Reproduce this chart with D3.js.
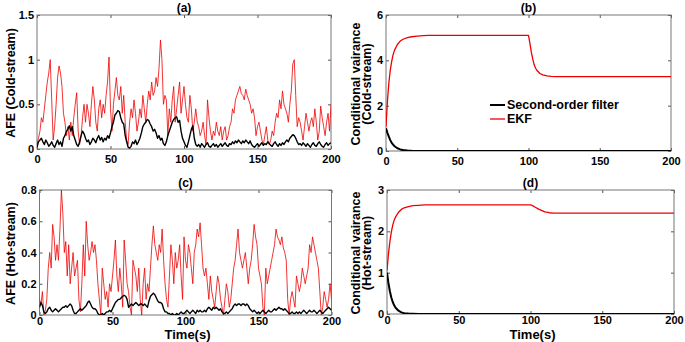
<!DOCTYPE html>
<html>
<head>
<meta charset="utf-8">
<script src="https://cdn.jsdelivr.net/npm/d3@7"></script>
<style>
  body { margin: 0; background: #fff; }
  svg { font-family: "Liberation Sans", Arial, sans-serif; font-weight: bold; }
  .tick text { font-size: 11px; fill: #000; font-weight: bold; }
  .tick line { stroke: #555; }
  .domain { display: none; }
</style>
</head>
<body>
<svg id="chart" width="685" height="342"></svg>
<script>
// time axis of the AFE plots, one sample per second
const timeAfe = d3.range(0, 201);

// (a) AFE cold-stream
const afeColdEkf = [
  0.05, 0.12, 0.2, 0.35, 0.3, 0.45, 0.6, 0.75, 0.85, 1.0,
  0.55, 0.1, 0.25, 0.5, 0.8, 0.93, 0.85, 0.7, 0.4, 0.3,
  0.15, 0.25, 0.1, 0.3, 0.15, 0.35, 0.5, 0.63, 0.2, 0.05,
  0.15, 0.35, 0.5, 0.3, 0.5, 0.4, 0.25, 0.5, 0.7, 0.55,
  0.3, 0.2, 0.45, 0.55, 0.35, 0.5, 0.4, 0.6, 0.75, 1.03,
  0.45, 0.2, 0.5, 0.65, 0.8, 0.6, 0.55, 0.7, 0.4, 0.6,
  0.3, 0.1, 0.05, 0.3, 0.45, 0.35, 0.55, 0.4, 0.2, 0.3,
  0.45, 0.35, 0.6, 0.45, 0.3, 0.5, 0.65, 0.55, 0.75, 0.6,
  0.65, 0.8, 0.7, 0.9, 1.22, 1.0, 0.5, 0.6, 0.55, 0.15,
  0.45, 0.3, 0.55, 0.7, 0.3, 0.45, 0.6, 0.75, 0.4, 0.55,
  0.7, 0.5, 0.35, 0.3, 0.6, 0.45, 0.2, 0.3, 0.45, 0.3,
  0.25, 0.15, 0.2, 0.3, 0.15, 0.05, 0.55, 0.35, 0.2, 0.1,
  0.2, 0.15, 0.3, 0.2, 0.15, 0.25, 0.1, 0.2, 0.25, 0.1,
  0.15, 0.25, 0.3, 0.45, 0.4, 0.55, 0.6, 0.65, 0.7, 0.62,
  0.6, 0.55, 0.67, 0.6, 0.55, 0.5, 0.4, 0.45, 0.35, 0.15,
  0.25, 0.3, 0.2, 0.1, 0.05, 0.15, 0.25, 0.1, 0.05, 0.1,
  0.2, 0.15, 0.3, 0.4, 0.35, 0.55, 0.45, 0.65, 0.5, 0.45,
  0.4, 0.3, 0.5, 0.65, 0.95, 1.0, 0.6, 0.25, 0.35, 0.3,
  0.2, 0.1, 0.25, 0.4, 0.3, 0.2, 0.3, 0.35, 0.25, 0.45,
  0.3, 0.1, 0.2, 0.48, 0.35, 0.25, 0.15, 0.3, 0.4, 0.2,
  0.5,
];
const afeColdSecond = [
  0.02, 0.08, 0.1, 0.12, 0.08, 0.05, 0.1, 0.07, 0.03, 0.05,
  0.08, 0.04, 0.02, 0.06, 0.1, 0.05, 0.08, 0.03, 0.12, 0.15,
  0.2, 0.22, 0.26, 0.2, 0.25, 0.15, 0.1, 0.05, 0.03, 0.08,
  0.15, 0.2, 0.17, 0.12, 0.08, 0.1, 0.05, 0.08, 0.12, 0.1,
  0.07, 0.12, 0.15, 0.1, 0.13, 0.08, 0.12, 0.1, 0.15, 0.12,
  0.18, 0.25, 0.3, 0.38, 0.4, 0.43, 0.42, 0.35, 0.3, 0.28,
  0.15, 0.08, 0.02, 0.01, 0.03, 0.08, 0.06, 0.1, 0.05, 0.08,
  0.12, 0.18, 0.25, 0.28, 0.3, 0.33, 0.32, 0.28, 0.25, 0.2,
  0.22, 0.18, 0.12, 0.15, 0.1, 0.12, 0.06, 0.04, 0.08, 0.15,
  0.2, 0.25, 0.3, 0.33, 0.35, 0.36, 0.3, 0.32, 0.2, 0.12,
  0.08, 0.04, 0.02, 0.08, 0.15, 0.22, 0.26, 0.12, 0.05, 0.03,
  0.05, 0.02, 0.06, 0.04, 0.02, 0.05, 0.07, 0.03, 0.02, 0.04,
  0.06, 0.03, 0.05, 0.02, 0.04, 0.06, 0.03, 0.05, 0.07, 0.04,
  0.03, 0.06, 0.05, 0.08, 0.06, 0.09, 0.07, 0.1, 0.08, 0.06,
  0.09, 0.07, 0.1, 0.08, 0.06, 0.09, 0.05, 0.03, 0.02, 0.04,
  0.06, 0.03, 0.05, 0.07, 0.04, 0.06, 0.05, 0.08, 0.06, 0.04,
  0.03, 0.06, 0.08, 0.05, 0.03, 0.06, 0.04, 0.07, 0.05, 0.08,
  0.1, 0.08, 0.12, 0.14, 0.16, 0.15, 0.12, 0.08, 0.05, 0.06,
  0.04, 0.07, 0.05, 0.03, 0.06, 0.04, 0.02, 0.05, 0.07, 0.04,
  0.03, 0.06, 0.08, 0.05, 0.03, 0.02, 0.05, 0.07, 0.04, 0.06,
  0.07,
];

// (c) AFE hot-stream
const afeHotEkf = [
  0.1, 0.07, 0.15, 0.0, 0.03, 0.1, 0.3, 0.4, 0.3, 0.58,
  0.5, 0.35, 0.45, 0.35, 0.55, 0.8, 0.65, 0.4, 0.47, 0.25,
  0.45, 0.2, 0.3, 0.4, 0.25, 0.3, 0.35, 0.1, 0.02, 0.2,
  0.45, 0.25, 0.6, 0.45, 0.35, 0.4, 0.47, 0.4, 0.45, 0.35,
  0.2, 0.1, 0.0, 0.3, 0.2, 0.1, 0.15, 0.05, 0.2, 0.15,
  0.25, 0.35, 0.48, 0.25, 0.15, 0.3, 0.2, 0.05, 0.48, 0.35,
  0.2, 0.15, 0.05, 0.0, 0.35, 0.3, 0.25, 0.15, 0.3, 0.1,
  0.0, 0.2, 0.3, 0.1, 0.2, 0.15, 0.3, 0.45, 0.57, 0.45,
  0.4, 0.35, 0.45, 0.4, 0.55, 0.35, 0.2, 0.1, 0.05, 0.25,
  0.45, 0.35, 0.2, 0.4, 0.3, 0.35, 0.45, 0.25, 0.1, 0.5,
  0.35, 0.3, 0.45, 0.4, 0.3, 0.2, 0.4, 0.45, 0.55, 0.5,
  0.59, 0.45, 0.3, 0.25, 0.3, 0.2, 0.1, 0.25, 0.15, 0.1,
  0.05, 0.15, 0.25, 0.2, 0.1, 0.05, 0.0, 0.1, 0.2, 0.15,
  0.05, 0.1, 0.2, 0.3, 0.35, 0.45, 0.55, 0.4, 0.35, 0.3,
  0.35, 0.4, 0.3, 0.2, 0.3, 0.35, 0.45, 0.58, 0.5, 0.45,
  0.3, 0.25, 0.2, 0.05, 0.0, 0.3, 0.2, 0.25, 0.3, 0.35,
  0.4, 0.45, 0.55, 0.5, 0.48, 0.45, 0.5, 0.43, 0.4, 0.35,
  0.1, 0.0, 0.1, 0.15, 0.1, 0.05, 0.25, 0.2, 0.15, 0.2,
  0.3, 0.25, 0.2, 0.25, 0.3, 0.45, 0.4, 0.5, 0.45, 0.4,
  0.35, 0.3, 0.15, 0.0, 0.05, 0.15, 0.1, 0.05, 0.1, 0.2,
  0.1,
];
const afeHotSecond = [
  0.05, 0.08, 0.06, 0.02, 0.01, 0.02, 0.04, 0.05, 0.03, 0.02,
  0.03, 0.04, 0.03, 0.02, 0.03, 0.04, 0.05, 0.05, 0.06, 0.05,
  0.06, 0.07, 0.06, 0.03, 0.01, 0.01, 0.02, 0.03, 0.04, 0.03,
  0.04, 0.05, 0.06, 0.08, 0.09, 0.07, 0.05, 0.04, 0.04, 0.03,
  0.01, 0.0, 0.0, 0.01, 0.0, 0.01, 0.02, 0.02, 0.03, 0.02,
  0.04, 0.06, 0.08, 0.09, 0.1, 0.1, 0.11, 0.12, 0.125, 0.12,
  0.1, 0.05, 0.06, 0.07, 0.06, 0.07, 0.08, 0.07, 0.06, 0.07,
  0.07, 0.06, 0.07, 0.06, 0.05, 0.09, 0.12, 0.13, 0.14, 0.13,
  0.11, 0.09, 0.08, 0.08, 0.07, 0.04, 0.02, 0.02, 0.01, 0.01,
  0.0, 0.01, 0.0, 0.0, 0.01, 0.0, 0.01, 0.02, 0.01, 0.01,
  0.02, 0.03, 0.02, 0.01, 0.02, 0.03, 0.02, 0.01, 0.03, 0.02,
  0.03, 0.02, 0.02, 0.03, 0.02, 0.04, 0.05, 0.04, 0.03, 0.05,
  0.04, 0.05, 0.04, 0.03, 0.04, 0.02, 0.01, 0.01, 0.02, 0.01,
  0.02, 0.03, 0.04, 0.06, 0.07, 0.06, 0.07, 0.07, 0.06, 0.07,
  0.07, 0.06, 0.07, 0.06, 0.04, 0.03, 0.02, 0.03, 0.02, 0.01,
  0.02, 0.01, 0.02, 0.03, 0.02, 0.01, 0.02, 0.03, 0.02, 0.02,
  0.03, 0.04, 0.03, 0.04, 0.05, 0.04, 0.04, 0.03, 0.04, 0.03,
  0.02, 0.01, 0.01, 0.02, 0.01, 0.01, 0.02, 0.01, 0.02, 0.01,
  0.02, 0.03, 0.02, 0.01, 0.02, 0.03, 0.02, 0.02, 0.03, 0.02,
  0.01, 0.02, 0.03, 0.02, 0.01, 0.02, 0.03, 0.04, 0.05, 0.04,
  0.03,
];

// conditional variance plots, sampled more densely where the curves bend
const timeVar = [0, 1, 2, 3, 4, 5, 6, 8, 10, 12, 15, 18, 22, 26, 30, 40, 60, 80, 100,
  101, 102, 103, 104, 105, 106, 108, 110, 113, 116, 120, 140, 170, 200];

// (b) cold-stream
const varColdEkf = [1.07, 2.2, 3.0, 3.57, 3.95, 4.25, 4.45, 4.7, 4.85, 4.93, 5.0, 5.04, 5.07, 5.09, 5.1, 5.1, 5.1, 5.1, 5.1,
  4.75, 4.35, 4.05, 3.8, 3.65, 3.55, 3.42, 3.36, 3.31, 3.29, 3.28, 3.28, 3.28, 3.28];
const varColdSecond = [1.0, 0.8, 0.63, 0.48, 0.36, 0.28, 0.21, 0.12, 0.07, 0.04, 0.02, 0.01, 0.005, 0, 0, 0, 0, 0, 0,
  0, 0, 0, 0, 0, 0, 0, 0, 0, 0, 0, 0, 0, 0];

// (d) hot-stream
const varHotEkf = [1.05, 1.45, 1.75, 1.98, 2.15, 2.27, 2.35, 2.46, 2.53, 2.57, 2.6, 2.62, 2.63, 2.64, 2.64, 2.64, 2.64, 2.64, 2.64,
  2.63, 2.61, 2.59, 2.57, 2.55, 2.53, 2.5, 2.47, 2.45, 2.44, 2.44, 2.44, 2.44, 2.44];
const varHotSecond = [1.0, 0.75, 0.55, 0.4, 0.29, 0.21, 0.15, 0.08, 0.04, 0.02, 0.01, 0.005, 0, 0, 0, 0, 0, 0, 0,
  0, 0, 0, 0, 0, 0, 0, 0, 0, 0, 0, 0, 0, 0];

const xTicks = [0, 50, 100, 150, 200];

const panels = [
  {
    title: '(a)', box: [37, 331, 15, 149], yMax: 1.5, yTicks: [0, 0.5, 1, 1.5],
    time: timeAfe, ekf: afeColdEkf, second: afeColdSecond, label: ['AFE (Cold-stream)'], thin: true,
  },
  {
    title: '(b)', box: [386, 671, 15, 151], yMax: 6, yTicks: [0, 2, 4, 6],
    time: timeVar, ekf: varColdEkf, second: varColdSecond,
    label: ['Conditional vairance', '(Cold-stream)'], legend: true,
  },
  {
    title: '(c)', box: [39.5, 331.5, 190, 315], yMax: 0.8, yTicks: [0, 0.2, 0.4, 0.6, 0.8],
    time: timeAfe, ekf: afeHotEkf, second: afeHotSecond, label: ['AFE (Hot-stream)'], thin: true, xlabel: true,
  },
  {
    title: '(d)', box: [387, 674, 190, 314], yMax: 3, yTicks: [0, 1, 2, 3],
    time: timeVar, ekf: varHotEkf, second: varHotSecond,
    label: ['Conditional vairance', '(Hot-stream)'], xlabel: true,
  },
];

const svg = d3.select('#chart');

panels.forEach((p, i) => {
  const [x0, x1, y0, y1] = p.box;
  const x = d3.scaleLinear().domain([0, 200]).range([x0, x1]);
  const y = d3.scaleLinear().domain([0, p.yMax]).range([y1, y0]);
  const fmt = (d) => String(d);

  svg.append('clipPath').attr('id', `clip${i}`)
    .append('rect').attr('x', x0).attr('y', y0).attr('width', x1 - x0).attr('height', y1 - y0);

  // ticks point inward on all four sides, like a matlab box
  svg.append('g').attr('transform', `translate(0,${y1})`)
    .call(d3.axisBottom(x).tickValues(xTicks).tickFormat(fmt).tickSizeInner(-3).tickSizeOuter(0)
      .tickPadding(p.xlabel ? 2.5 : 6));
  svg.append('g').attr('transform', `translate(0,${y0})`)
    .call(d3.axisTop(x).tickValues(xTicks).tickFormat('').tickSizeInner(-3).tickSizeOuter(0));
  svg.append('g').attr('transform', `translate(${x0},0)`)
    .call(d3.axisLeft(y).tickValues(p.yTicks).tickFormat(fmt).tickSizeInner(-3).tickSizeOuter(0).tickPadding(3));
  svg.append('g').attr('transform', `translate(${x1},0)`)
    .call(d3.axisRight(y).tickValues(p.yTicks).tickFormat('').tickSizeInner(-3).tickSizeOuter(0));

  svg.append('rect')
    .attr('x', x0).attr('y', y0).attr('width', x1 - x0).attr('height', y1 - y0)
    .attr('fill', 'none').attr('stroke', '#777').attr('stroke-width', 1);

  const line = (vals) => d3.line()
    .x((d, k) => x(p.time[k]))
    .y((d) => y(d))(vals);

  const g = svg.append('g').attr('clip-path', `url(#clip${i})`);
  g.append('path').attr('d', line(p.ekf))
    .attr('fill', 'none').attr('stroke', '#ee0000')
    .attr('stroke-width', p.thin ? 0.8 : 1.3).attr('stroke-linejoin', 'round');
  g.append('path').attr('d', line(p.second))
    .attr('fill', 'none').attr('stroke', '#000')
    .attr('stroke-width', p.thin ? 1.4 : 2).attr('stroke-linejoin', 'round');

  svg.append('text')
    .attr('x', (x0 + x1) / 2).attr('y', y0 - 3.5)
    .attr('text-anchor', 'middle').attr('font-size', 12)
    .text(p.title);

  const midY = (y0 + y1) / 2 + 1;
  if (p.label.length === 1) {
    svg.append('text')
      .attr('transform', `translate(15,${midY}) rotate(-90)`)
      .attr('text-anchor', 'middle').attr('font-size', 12.5)
      .text(p.label[0]);
  } else {
    p.label.forEach((s, k) => {
      svg.append('text')
        .attr('transform', `translate(${359.5 + k * 11},${midY}) rotate(-90)`)
        .attr('text-anchor', 'middle').attr('font-size', 12.5)
        .text(s);
    });
  }

  if (p.xlabel) {
    svg.append('text')
      .attr('x', (x0 + x1) / 2 + 2).attr('y', 339)
      .attr('text-anchor', 'middle').attr('font-size', 13)
      .text('Time(s)');
  }

  if (p.legend) {
    const items = [['Second-order filter', '#000', 2], ['EKF', '#ee0000', 1.3]];
    items.forEach(([name, color, w], k) => {
      const ly = 105 + k * 14;
      svg.append('line')
        .attr('x1', 490).attr('x2', 505).attr('y1', ly).attr('y2', ly)
        .attr('stroke', color).attr('stroke-width', w);
      svg.append('text')
        .attr('x', 507).attr('y', ly + 4.2).attr('font-size', 12.5)
        .text(name);
    });
  }
});
</script>
</body>
</html>
